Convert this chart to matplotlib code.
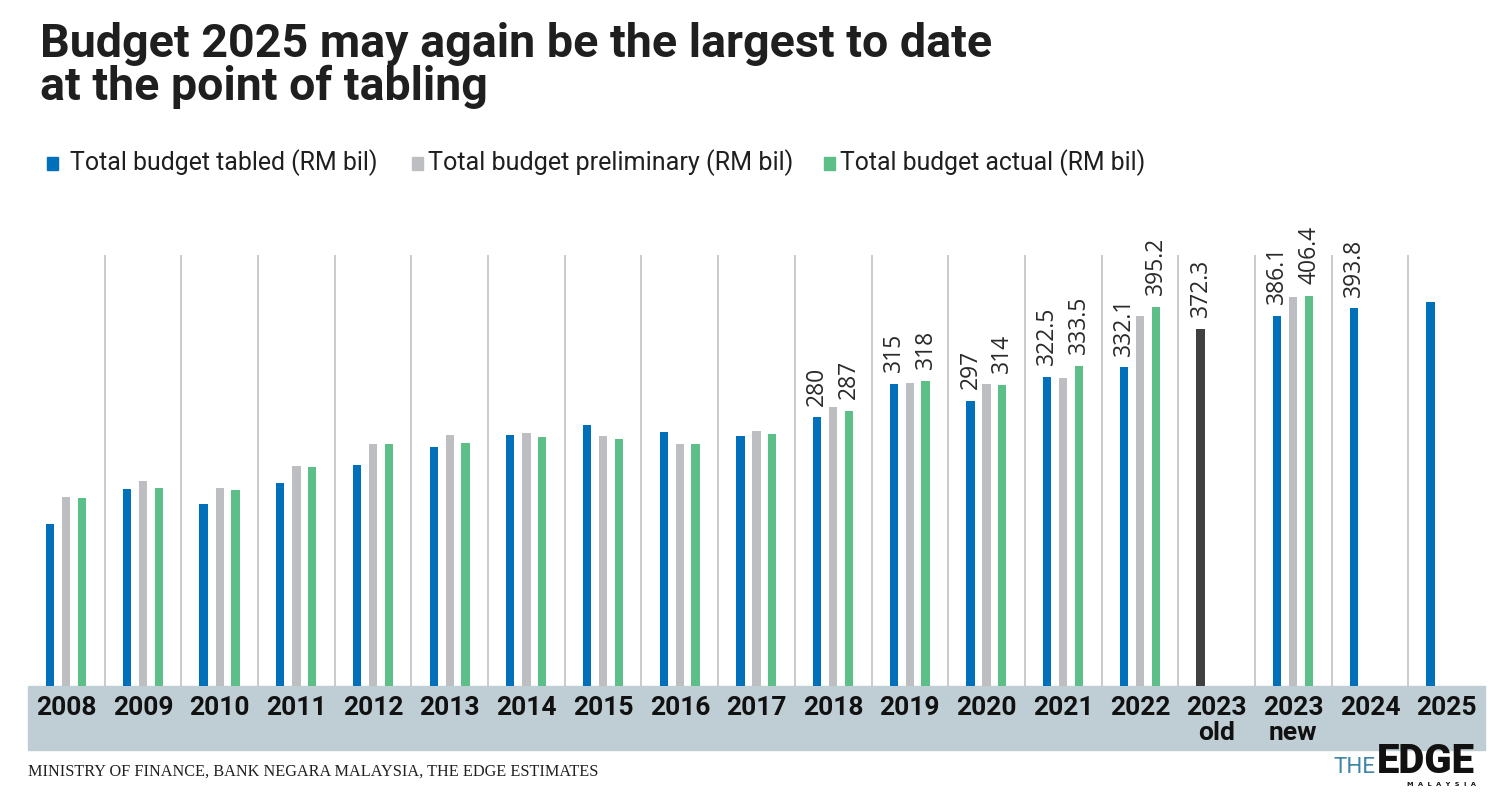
import numpy as np
import matplotlib
matplotlib.use("Agg")
import matplotlib.pyplot as plt
from matplotlib.patches import Rectangle

nan = np.nan

# categories and series (RM bil)
years = ['2008', '2009', '2010', '2011', '2012', '2013', '2014', '2015', '2016', '2017',
         '2018', '2019', '2020', '2021', '2022', '2023\nold', '2023\nnew', '2024', '2025']
tabled = [168.9, 205.8, 189.4, 211.7, 230.4, 249.2, 262.1, 272.2, 264.9, 260.7,
          280.0, 315.0, 297.0, 322.5, 332.1, nan, 386.1, 393.8, 400.0]
tabled_old = [nan] * 15 + [372.3] + [nan] * 3
preliminary = [197.1, 214.1, 206.5, 229.4, 252.7, 261.4, 263.5, 260.7, 252.0, 265.6,
               290.6, 316.3, 315.2, 320.9, 385.8, nan, 406.0, nan, nan]
actual = [196.4, 206.5, 204.4, 228.7, 252.7, 253.7, 259.6, 257.6, 252.0, 262.8,
          287.0, 318.0, 314.0, 333.5, 395.2, nan, 406.4, nan, nan]

# which bars carry a value label
tabled_lab = [10, 11, 12, 13, 14, 16, 17]
actual_lab = [10, 11, 12, 13, 14, 16]
old_lab = [15]

legend_names = ['Total budget tabled (RM bil)', 'Total budget preliminary (RM bil)',
                'Total budget actual (RM bil)']

BLUE = '#0070ba'
GREY = '#bdbec1'
GREEN = '#5bbf87'
DARK = '#404040'
BAND = '#bfcdd4'
INK = '#1f1f1f'

W, H = 1500, 796
fig = plt.figure(figsize=[15, 7.96], dpi=100)
ax = fig.add_axes([28 / W, (H - 686) / H, 1457 / W, 431 / H])

x = np.arange(len(years))
bw = 0.108
ax.bar(x - 0.21, tabled, bw, color=BLUE, zorder=3)
ax.bar(x - 0.21, tabled_old, bw, color=DARK, zorder=3)
ax.bar(x, preliminary, bw, color=GREY, zorder=3)
ax.bar(x + 0.205, actual, bw, color=GREEN, zorder=3)

for i in range(len(years) - 1):
    ax.axvline(i + 0.5, color='#bdbdbd', lw=1.1, zorder=1)

lab_kw = dict(textcoords='offset points', xytext=(0, 8.5), rotation=90,
              ha='center', va='bottom', fontsize=16.5, color='#2a2a2a',
              family='Open Sans', annotation_clip=False)
for i in tabled_lab:
    ax.annotate(f'{tabled[i]:g}', (x[i] - 0.21, tabled[i]), **lab_kw)
for i in actual_lab:
    ax.annotate(f'{actual[i]:g}', (x[i] + 0.205, actual[i]), **lab_kw)
for i in old_lab:
    ax.annotate(f'{tabled_old[i]:g}', (x[i] - 0.21, tabled_old[i]), **lab_kw)

ax.set_xlim(-0.5, len(years) - 0.5)
ax.set_ylim(0, 449.4)
ax.set_yticks([])
ax.set_xticks(x)
ax.set_xticklabels(years, fontsize=19, fontweight='bold', family='Roboto',
                   color='#111111', linespacing=1.05, va='top')
ax.tick_params(axis='x', length=0, pad=7)
for s in ax.spines.values():
    s.set_visible(False)

# grey band behind the year labels
ax.add_patch(Rectangle((0, -64 / 431), 1, 64 / 431, transform=ax.transAxes,
                       color=BAND, clip_on=False, zorder=0))

renderer = fig.canvas.get_renderer()


def put(px, py, s, width=None, **kw):
    t = fig.text(px / W, 1 - py / H, s, va='baseline', ha='left', **kw)
    if width is not None:
        w = t.get_window_extent(renderer).width
        t.set_fontsize(t.get_fontsize() * width / w)
    return t


put(40, 57, 'Budget 2025 may again be the largest to date', width=952,
    fontsize=36, fontweight='bold', family='Roboto', color=INK)
put(40, 100, 'at the point of tabling', width=447,
    fontsize=36, fontweight='bold', family='Roboto', color=INK)

leg_x = [(47, 70, 307), (412, 428, 364), (824, 840, 305)]
for (sx, tx, tw), name, col in zip(leg_x, legend_names, [BLUE, GREY, GREEN]):
    fig.patches.append(Rectangle((sx / W, 1 - 170 / H), 11 / W, 13 / H,
                                 transform=fig.transFigure, color=col))
    put(tx, 170, name, width=tw, fontsize=18, family='Roboto', color=INK)

put(28, 776, 'MINISTRY OF FINANCE, BANK NEGARA MALAYSIA, THE EDGE ESTIMATES', width=567,
    fontsize=11, family='Liberation Serif', color=INK)

# masthead
put(1333, 773, 'THE', width=42, fontsize=20, family='Roboto', color='#3f86a8')
put(1377, 773, 'EDGE', width=98, fontsize=20, fontweight='black', family='Roboto',
    color='#111111')
put(1407, 786, 'M  A  L  A  Y  S  I  A', width=70, fontsize=5, fontweight='bold',
    family='DejaVu Sans', color='#111111')

fig.savefig('out.png', dpi=100)
